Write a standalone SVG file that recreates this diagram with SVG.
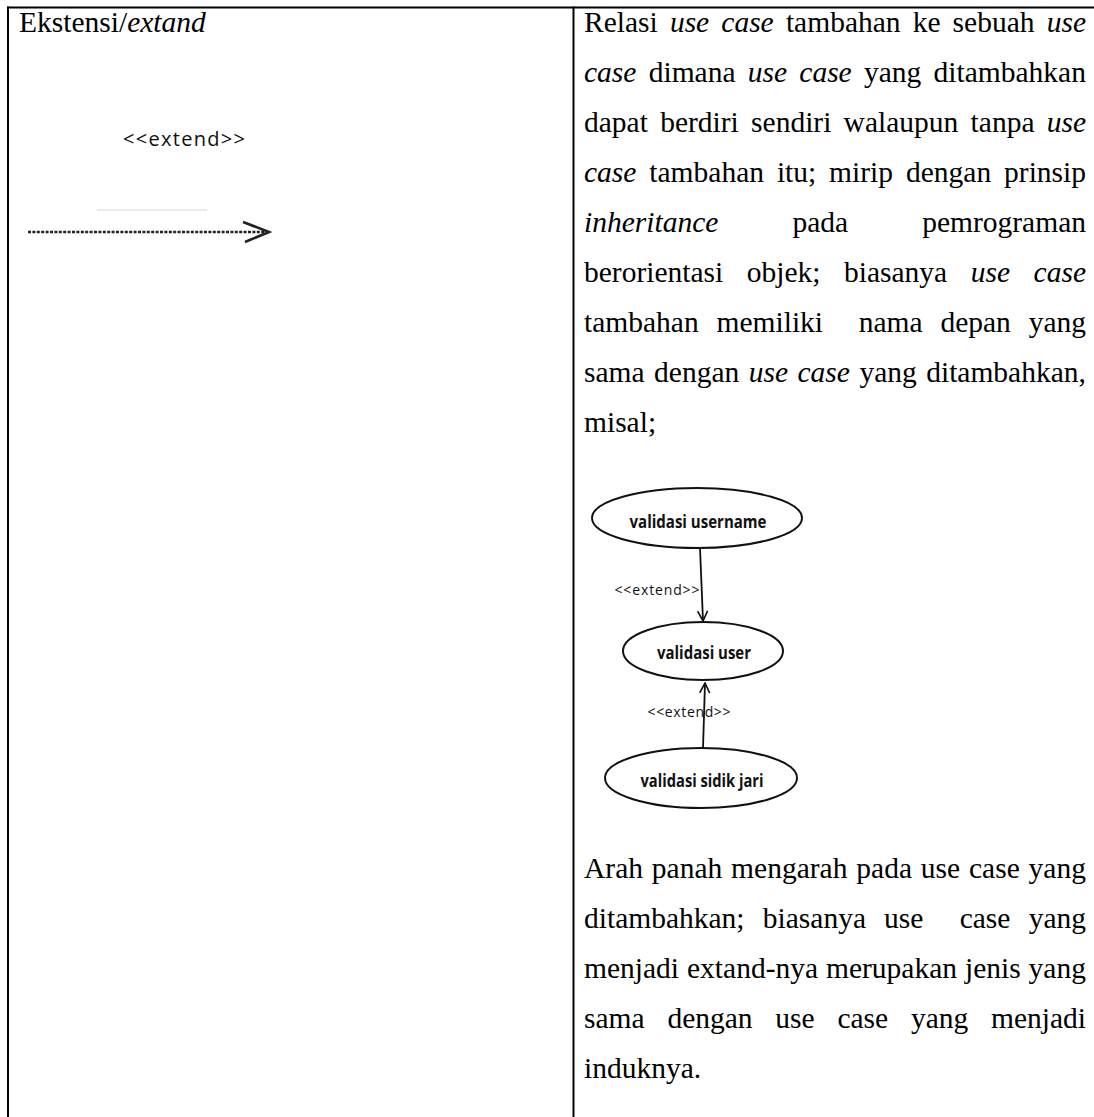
<svg xmlns="http://www.w3.org/2000/svg" width="1094" height="1117" viewBox="0 0 1094 1117">
<defs>
<style>
.t{font-family:"Liberation Serif","Times New Roman",serif;font-size:29.5px;fill:#000}
.i{font-style:italic}
.lbl{font-family:"Open Sans","Liberation Sans",sans-serif;fill:#111}
.uc{font-family:"Open Sans","Liberation Sans",sans-serif;font-weight:bold;font-size:18px;fill:#111}
.frame{stroke:#000;stroke-width:2;fill:none}
.node{fill:#fff;stroke:#111;stroke-width:2}
.conn{stroke:#111;stroke-width:1.8;fill:none}
</style>
<marker id="open" viewBox="0 0 12 12" markerWidth="12" markerHeight="12" refX="11" refY="6" orient="auto" markerUnits="userSpaceOnUse">
<path d="M1,1 L11,6 L1,11" fill="none" stroke="#111" stroke-width="1.6"/>
</marker>
</defs>
<rect width="1094" height="1117" fill="#fff"/>
<g id="table">
<line class="frame" x1="7" y1="7.5" x2="1094" y2="7.5"/>
<line class="frame" x1="8" y1="6.5" x2="8" y2="1117"/>
<line class="frame" x1="573.5" y1="6.5" x2="573.5" y2="1117"/>
</g>
<g id="left-cell">
<text class="t" x="19" y="32">Ekstensi/<tspan class="i">extand</tspan></text>
<text class="lbl" x="184" y="146" font-size="20" text-anchor="middle" textLength="122">&lt;&lt;extend&gt;&gt;</text>
<line x1="97" y1="210" x2="207" y2="210" stroke="#ececec" stroke-width="2"/>
<line x1="28" y1="232" x2="266" y2="232" stroke="#222" stroke-width="2.6" stroke-dasharray="3 1.4"/>
<path d="M243,222 L269,232 L245,242" fill="none" stroke="#222" stroke-width="2.6"/>
</g>
<g id="right-text-top" class="t">
<text y="32"><tspan x="584">Relasi</tspan><tspan class="i" x="669.9">use</tspan><tspan class="i" x="721.3">case</tspan><tspan x="785.9">tambahan</tspan><tspan x="912.7">ke</tspan><tspan x="952.6">sebuah</tspan><tspan class="i" x="1046.7">use</tspan></text>
<text y="82"><tspan class="i" x="584">case</tspan><tspan x="648.7">dimana</tspan><tspan class="i" x="747.8">use</tspan><tspan class="i" x="799.3">case</tspan><tspan x="864">yang</tspan><tspan x="933.6">ditambahkan</tspan></text>
<text y="132"><tspan x="584">dapat</tspan><tspan x="660.2">berdiri</tspan><tspan x="751.1">sendiri</tspan><tspan x="843.6">walaupun</tspan><tspan x="970.6">tanpa</tspan><tspan class="i" x="1046.7">use</tspan></text>
<text y="182"><tspan class="i" x="584">case</tspan><tspan x="649.3">tambahan</tspan><tspan x="776.9">itu;</tspan><tspan x="829.1">mirip</tspan><tspan x="906">dengan</tspan><tspan x="1004.1">prinsip</tspan></text>
<text y="232"><tspan class="i" x="584">inheritance</tspan><tspan x="792.4">pada</tspan><tspan x="922.2">pemrograman</tspan></text>
<text y="282"><tspan x="584">berorientasi</tspan><tspan x="746.8">objek;</tspan><tspan x="844">biasanya</tspan><tspan class="i" x="970.7">use</tspan><tspan class="i" x="1033.6">case</tspan></text>
<text y="332"><tspan x="584">tambahan</tspan><tspan x="716.5">memiliki</tspan><tspan x="858.7">nama</tspan><tspan x="940.4">depan</tspan><tspan x="1028.7">yang</tspan></text>
<text y="382"><tspan x="584">sama</tspan><tspan x="654.1">dengan</tspan><tspan class="i" x="748.7">use</tspan><tspan class="i" x="797.5">case</tspan><tspan x="859.4">yang</tspan><tspan x="926.2">ditambahkan,</tspan></text>
<text y="432" x="584">misal;</text>
</g>
<g id="connectors">
<path class="conn" d="M700,548 L703,621" marker-end="url(#open)"/>
<path class="conn" d="M703,748 L705,683" marker-end="url(#open)"/>
</g>
<g id="node-username">
<ellipse class="node" cx="697" cy="518" rx="105" ry="30"/>
<text class="uc" x="698" y="528" text-anchor="middle" textLength="137" lengthAdjust="spacingAndGlyphs">validasi username</text>
</g>
<g id="label-extend-1">
<text class="lbl" x="657" y="595" font-size="14" text-anchor="middle" textLength="85">&lt;&lt;extend&gt;&gt;</text>
</g>
<g id="node-user">
<ellipse class="node" cx="703" cy="651" rx="80" ry="29"/>
<text class="uc" x="704" y="659" text-anchor="middle" textLength="94" lengthAdjust="spacingAndGlyphs">validasi user</text>
</g>
<g id="label-extend-2">
<text class="lbl" x="689" y="717" font-size="14" text-anchor="middle" textLength="83">&lt;&lt;extend&gt;&gt;</text>
</g>
<g id="node-sidik">
<ellipse class="node" cx="701" cy="778" rx="96" ry="30"/>
<text class="uc" x="702" y="787" text-anchor="middle" textLength="123" lengthAdjust="spacingAndGlyphs">validasi sidik jari</text>
</g>
<g id="right-text-bottom" class="t">
<text y="878"><tspan x="584">Arah</tspan><tspan x="651.8">panah</tspan><tspan x="731.1">mengarah</tspan><tspan x="856.3">pada</tspan><tspan x="920.8">use</tspan><tspan x="969">case</tspan><tspan x="1028.6">yang</tspan></text>
<text y="928"><tspan x="584">ditambahkan;</tspan><tspan x="762.8">biasanya</tspan><tspan x="884.1">use</tspan><tspan x="959.7">case</tspan><tspan x="1028.7">yang</tspan></text>
<text y="978"><tspan x="584">menjadi</tspan><tspan x="687">extand-nya</tspan><tspan x="826">merupakan</tspan><tspan x="965">jenis</tspan><tspan x="1028.6">yang</tspan></text>
<text y="1028"><tspan x="584">sama</tspan><tspan x="667.4">dengan</tspan><tspan x="775.3">use</tspan><tspan x="837.4">case</tspan><tspan x="910.9">yang</tspan><tspan x="991">menjadi</tspan></text>
<text y="1078" x="584">induknya.</text>
</g>
</svg>
